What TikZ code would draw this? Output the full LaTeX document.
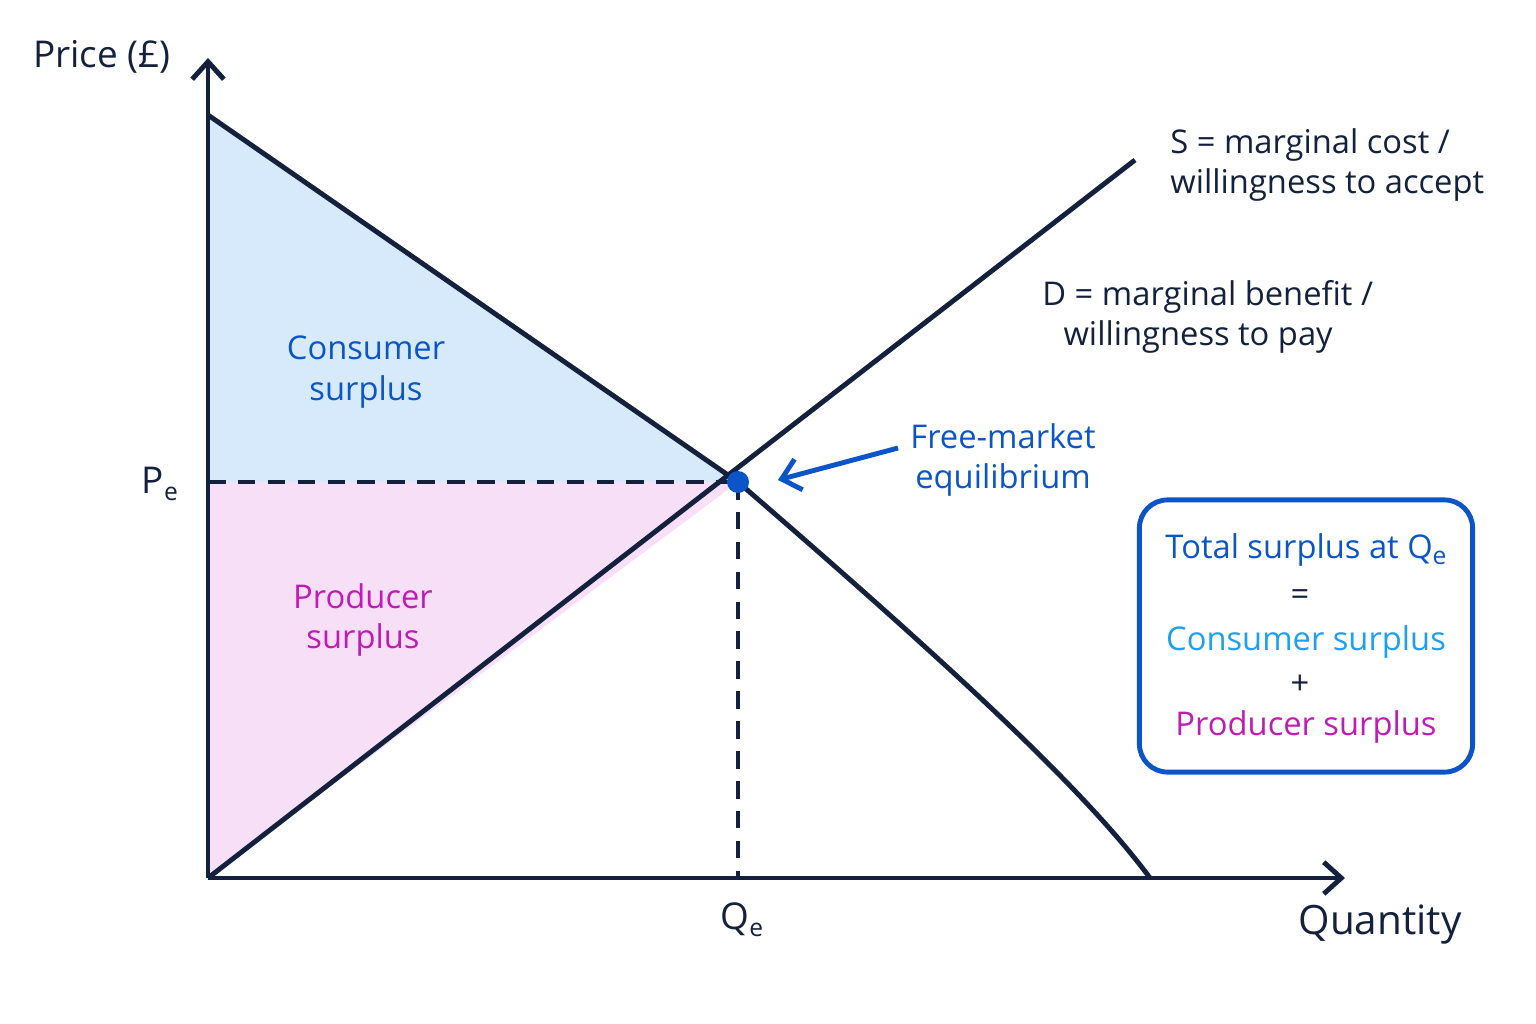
\documentclass[tikz,border=0pt]{standalone}
\usepackage{fontspec}
\setmainfont{Open Sans}
\usetikzlibrary{arrows.meta,positioning}
\definecolor{navy}{HTML}{14213D}
\definecolor{cblue}{HTML}{0B55C8}
\definecolor{lblue}{HTML}{1EA0F0}
\definecolor{cfill}{HTML}{D6EAFB}
\definecolor{pfill}{HTML}{F8DFF8}
\definecolor{mag}{HTML}{C01BB5}
\newcommand{\sub}[1]{\raisebox{-0.35ex}{\scriptsize #1}}
\begin{document}
\begin{tikzpicture}[x=0.01cm,y=-0.01cm,
    every node/.style={font=\fontsize{9.3}{11.5}\selectfont, text=navy, align=center},
    curve/.style={navy, line width=1.4pt},
    guide/.style={navy, line width=1.1pt, dash pattern=on 5pt off 3.5pt},
    axis/.style={navy, line width=1.4pt, -{Straight Barb[length=5pt,width=9pt]}}]
  \useasboundingbox (0,0) rectangle (1536,1024);
  \coordinate (O) at (208,878);
  \coordinate (Dtop) at (208,115);
  \coordinate (E) at (738,482);
  \coordinate (Pe) at (208,482);
  \coordinate (Qe) at (738,878);
  \coordinate (Dend) at (1150,878);
  \coordinate (Send) at (1135,160);
  % surplus areas
  \fill[cfill] (Dtop) -- (E) -- (Pe) -- cycle;
  \fill[pfill] (O) -- (E) -- (Pe) -- cycle;
  % axes
  \draw[axis] (O) -- (208,58);
  \draw[axis] (O) -- (1345,878);
  \draw[guide] (Pe) -- (E);
  \draw[guide] (E) -- (Qe);
  % curves
  \draw[curve] (Dtop) -- (E) .. controls (950,665) and (1085,790) .. (Dend);
  \draw[curve] (O) -- (Send);
  \fill[cblue] (E) circle (11);
  % labels
  \node (price) at (102,57) {\fontsize{10.5}{12}\selectfont Price (£)};
  \node (pe) at (160,484) {\fontsize{10.5}{12}\selectfont P\sub{e}};
  \node (qe) at (742,920) {\fontsize{10.5}{12}\selectfont Q\sub{e}};
  \node (qty) at (1380,925) {\fontsize{11.5}{13}\selectfont Quantity};
  \node[text=cblue] (cs) at (366,372) {Consumer\\surplus};
  \node[text=mag] (ps) at (363,620) {Producer\\surplus};
  \node[anchor=west, align=left] (slab) at (1158,165) {S = marginal cost /\\willingness to accept};
  \node[anchor=west, align=left] (dlab) at (1030,317) {D = marginal benefit /\\\hspace{6pt}willingness to pay};
  \node[text=cblue] (fm) at (1003,460) {Free-market\\equilibrium};
  \draw[cblue, line width=1.4pt, -{Straight Barb[length=5pt,width=9pt]}] (fm.west |- 0,448) -- (778,480);
  \node[draw=cblue, line width=1.4pt, rounded corners=8pt, minimum width=3.33cm, minimum height=2.72cm] (box) at (1306,636) {};
  \node[text=cblue] (t1) at (1306,550) {Total surplus at Q\sub{e}};
  \node (t2) at (1300,598) {=};
  \node[text=lblue] (t3) at (1306,642) {Consumer surplus};
  \node (t4) at (1300,685) {+};
  \node[text=mag] (t5) at (1306,727) {Producer surplus};
\end{tikzpicture}
\end{document}
